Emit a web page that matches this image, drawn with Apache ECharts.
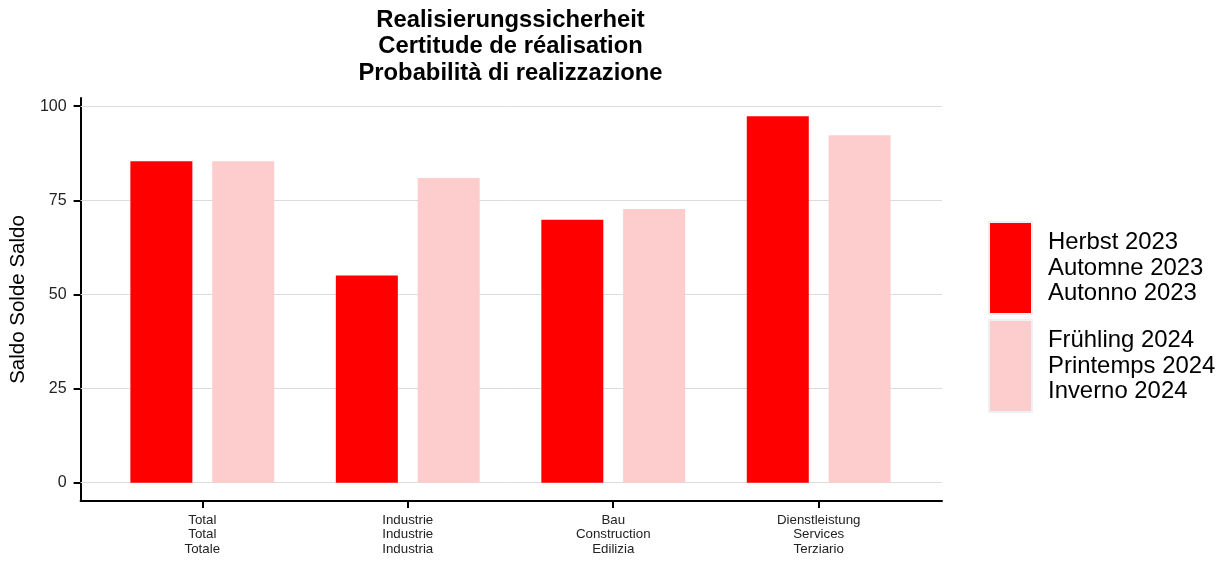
<!DOCTYPE html>
<html>
<head>
<meta charset="utf-8">
<script src="https://cdn.jsdelivr.net/npm/echarts@6/dist/echarts.min.js"></script>
<style>html,body{margin:0;padding:0;background:#fff}#c{width:1228px;height:561px}</style>
</head>
<body>
<div id="c"></div>
<script>
const categories = ["Total\nTotal\nTotale", "Industrie\nIndustrie\nIndustria", "Bau\nConstruction\nEdilizia", "Dienstleistung\nServices\nTerziario"];
const seriesNames = ["Herbst 2023\nAutomne 2023\nAutonno 2023", "Frühling 2024\nPrintemps 2024\nInverno 2024"];
const herbst2023 = [85.4, 55.0, 69.8, 97.3];
const fruehling2024 = [85.4, 80.9, 72.7, 92.3];
const yTicks = [0, 25, 50, 75, 100];
const titleLines = ["Realisierungssicherheit", "Certitude de réalisation", "Probabilità di realizzazione"];
const yName = "Saldo Solde Saldo";

const FONT = "Liberation Sans, Arial, sans-serif";
const yMin = -4.865, yMax = 102.165;
const chart = echarts.init(document.getElementById('c'));
chart.setOption({
  animation: false,
  textStyle: { fontFamily: FONT },
  title: {
    text: titleLines.join("\n"),
    left: 505.5, top: 2, textAlign: 'center',
    textStyle: { fontFamily: FONT, fontSize: 23.8, fontWeight: 'bold', color: '#000', lineHeight: 26.5 }
  },
  legend: {
    orient: 'vertical', left: 988, top: 221, padding: 0,
    itemWidth: 43, itemHeight: 92, itemGap: 4,
    icon: 'rect',
    textStyle: { fontFamily: FONT, fontSize: 23.9, color: '#000', lineHeight: 25.5, padding: [4, 0, 0, 11] },
    itemStyle: { borderColor: '#f0f0f0', borderWidth: 2 },
    data: seriesNames
  },
  grid: [
    { left: 79, width: 863, top: 98, height: 403, containLabel: false },
    { left: 99.55, width: 821.9, top: 98, height: 403, containLabel: false }
  ],
  xAxis: [
    { type: 'value', gridIndex: 0, min: 0.4, max: 4.6,
      axisLine: { show: true, onZero: false, lineStyle: { color: '#000', width: 2 } },
      axisTick: { show: false }, axisLabel: { show: false }, splitLine: { show: false } },
    { type: 'category', gridIndex: 1, data: categories,
      axisLine: { show: false, onZero: false },
      axisTick: { show: true, alignWithLabel: true, length: 7, lineStyle: { color: '#000', width: 2 } },
      axisLabel: { margin: 12, fontFamily: FONT, fontSize: 13.3, color: '#222', lineHeight: 14.5 },
      splitLine: { show: false } }
  ],
  yAxis: [
    { type: 'value', gridIndex: 0, min: yMin, max: yMax,
      name: yName, nameLocation: 'middle', nameGap: 51, nameRotate: 90,
      nameTextStyle: { fontFamily: FONT, fontSize: 20.5, color: '#000' },
      axisLine: { show: true, lineStyle: { color: '#000', width: 2 } },
      axisTick: { show: true, length: 7, customValues: yTicks, lineStyle: { color: '#000', width: 2 } },
      axisLabel: { show: true, customValues: yTicks, margin: 14, fontFamily: FONT, fontSize: 16, color: '#222' },
      splitLine: { show: false } },
    { type: 'value', gridIndex: 1, min: yMin, max: yMax, show: false,
      splitLine: { show: false } }
  ],
  series: [
    { type: 'line', name: '_grid', xAxisIndex: 0, yAxisIndex: 0, data: [], z: 0, silent: true,
      markLine: { silent: true, z: 1, symbol: ['none', 'none'], label: { show: false },
        lineStyle: { color: '#dcdcdc', width: 1, type: 'solid' },
        data: yTicks.map(v => ({ yAxis: v })) } },
    { type: 'bar', name: seriesNames[0], xAxisIndex: 1, yAxisIndex: 1, data: herbst2023,
      barWidth: 62, barGap: '32%', itemStyle: { color: '#ff0000' }, z: 3 },
    { type: 'bar', name: seriesNames[1], xAxisIndex: 1, yAxisIndex: 1, data: fruehling2024,
      barWidth: 62, barGap: '32%', itemStyle: { color: '#fdcccc' }, z: 3 }
  ]
});
</script>
</body>
</html>
